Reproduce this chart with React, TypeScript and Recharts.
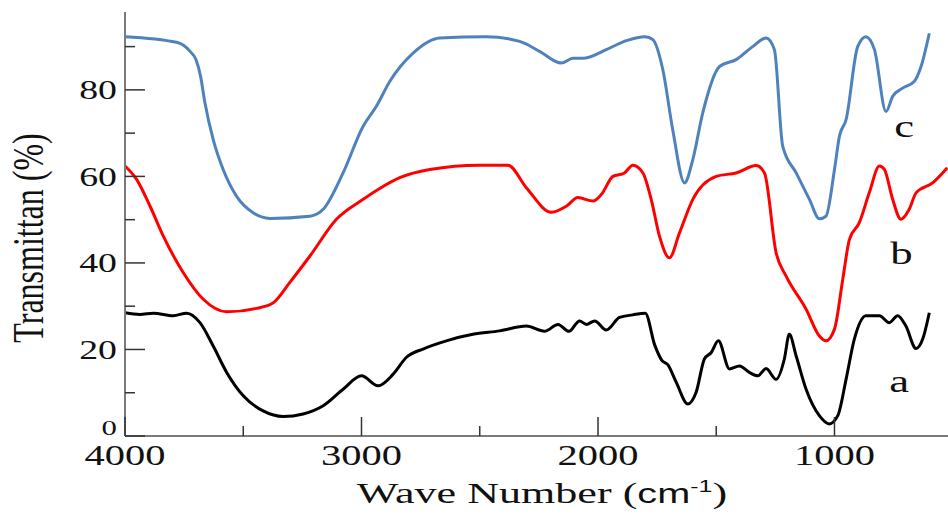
import { LineChart, Line, XAxis, YAxis, ReferenceDot } from 'recharts';

// FTIR spectra (wave number in cm-1, transmittance in %)
const waveA = [4000, 3937, 3880, 3796, 3739, 3683, 3627, 3570, 3500, 3416, 3331, 3247, 3162, 3078, 3000, 2930, 2866, 2810, 2740, 2641, 2529, 2416, 2303, 2226, 2169, 2123, 2078, 2049, 2014, 1965, 1909, 1853, 1800, 1760, 1730, 1705, 1669, 1620, 1585, 1550, 1521, 1491, 1444, 1402, 1360, 1324, 1289, 1247, 1212, 1191, 1162, 1120, 1064, 1022, 986, 951, 916, 867, 810, 768, 733, 698, 655, 627, 599];
const transA = [28.5, 28.1, 28.4, 27.8, 28.4, 26.2, 20.8, 14.7, 9.3, 5.8, 4.5, 5.1, 7.0, 10.8, 13.9, 11.6, 14.3, 18.2, 20.1, 22.0, 23.5, 24.3, 25.4, 24.2, 25.8, 24.2, 26.6, 25.8, 26.6, 24.5, 27.4, 28.0, 28.4, 21, 17.5, 16.5, 12.4, 7.4, 10.1, 17.8, 19.3, 22.0, 15.5, 16.2, 14.7, 13.9, 15.6, 13.1, 17.8, 23.5, 18.5, 10.8, 4.7, 2.8, 4.7, 13.1, 22.4, 27.8, 27.8, 26.2, 27.8, 25.4, 20.2, 22.4, 28.5];

const waveB = [4000, 3951, 3894, 3838, 3754, 3669, 3570, 3444, 3373, 3303, 3218, 3106, 2993, 2923, 2838, 2711, 2500, 2381, 2303, 2197, 2134, 2085, 2021, 1986, 1937, 1888, 1853, 1810, 1775, 1740, 1698, 1655, 1599, 1500, 1416, 1331, 1296, 1247, 1205, 1120, 1064, 1036, 1000, 965, 937, 895, 853, 810, 789, 754, 719, 684, 655, 585, 523];
const transB = [62.4, 59.3, 53.1, 46.2, 37.8, 31.6, 28.7, 29.5, 30.8, 35.5, 41.6, 50.1, 54.7, 57.2, 59.7, 61.6, 62.6, 62.6, 57.4, 51.7, 53.1, 55.1, 54.3, 55.8, 60.0, 60.8, 62.6, 60.8, 54.7, 46.2, 41.2, 47, 54.7, 60.0, 60.8, 62.5, 60.8, 42.4, 37, 29.3, 23.1, 22.0, 24.7, 36.2, 45.4, 49.3, 56.2, 62.4, 61.6, 54.7, 50.1, 52.4, 56.2, 58.5, 62];

const waveC = [4000, 3782, 3725, 3700, 3680, 3662, 3627, 3585, 3528, 3458, 3387, 3218, 3162, 3078, 2993, 2937, 2880, 2782, 2669, 2472, 2331, 2247, 2155, 2106, 2064, 1965, 1880, 1800, 1768, 1726, 1684, 1634, 1599, 1557, 1486, 1416, 1346, 1289, 1254, 1219, 1162, 1106, 1064, 1036, 1000, 979, 951, 902, 867, 831, 782, 754, 712, 662, 634, 599];
const transC = [92.3, 91.0, 88.9, 87.0, 83.0, 77, 68.5, 61.6, 55.4, 51.6, 50.3, 50.8, 52.4, 60.8, 71.6, 76.2, 82, 88.5, 92.0, 92.3, 91.2, 88.9, 86.2, 87.3, 87.3, 89.3, 91.4, 92.3, 91.6, 84.7, 70.8, 58.5, 63.9, 74.7, 85.4, 87, 90.0, 92.0, 89.3, 67, 60.8, 54.7, 50.2, 50.8, 61.6, 69.3, 73.1, 90.0, 92.3, 89.3, 75, 78.5, 80.4, 82, 85.4, 93.1];

const xTicks = [4000, 3500, 3000, 2500, 2000, 1500, 1000];
const yTicks = [0, 10, 20, 30, 40, 50, 60, 70, 80, 90];

// curve letters: [wave number, transmittance, letter]
const curveLabels: [number, number, string][] = [
    [705, 69.2, 'c'],
    [717, 39.7, 'b'],
    [726, 10.2, 'a'],
];

const toSeries = (waves: number[], values: number[]) =>
    waves.map((w, i) => ({ wn: w, t: values[i] }));

const seriesA = toSeries(waveA, transA);
const seriesB = toSeries(waveB, transB);
const seriesC = toSeries(waveC, transC);

const serif = '"Liberation Serif", "Times New Roman", serif';

function YTick({ x, y, payload }: any) {
    const v = payload.value;
    const major = v % 20 === 0;
    return (
        <g>
            <line x1={x} x2={x + (major ? 20 : 10)} y1={y} y2={y} stroke="#333" strokeWidth={1.5} />
            {major && (
                <text
                    transform={`translate(${x - 8},${v === 0 ? y - 9 : y}) scale(1.4,1)`}
                    textAnchor="end"
                    dy="0.35em"
                    fontSize={v === 0 ? 22 : 27}
                    fontFamily={serif}
                    fill="#111"
                >
                    {v}
                </text>
            )}
        </g>
    );
}

function XTick({ x, y, payload }: any) {
    const v = payload.value;
    const major = v % 1000 === 0;
    return (
        <g>
            <line x1={x} x2={x} y1={y} y2={y - (major ? 19 : 10)} stroke="#333" strokeWidth={1.5} />
            {major && (
                <text
                    transform={`translate(${x},${y + 29}) scale(1.35,1)`}
                    textAnchor="middle"
                    fontSize={30}
                    fontFamily={serif}
                    fill="#111"
                >
                    {v}
                </text>
            )}
        </g>
    );
}

const letterLabel = (letter: string) => (props: any) => {
    const { viewBox } = props;
    const cx = viewBox.x + viewBox.width / 2;
    const cy = viewBox.y + viewBox.height / 2;
    return (
        <text
            transform={`translate(${cx},${cy}) scale(1.4,1)`}
            textAnchor="middle"
            fontSize={32}
            fontFamily={serif}
            fill="#111"
        >
            {letter}
        </text>
    );
};

function App() {
    return (
        <div style={{ position: 'absolute', left: 0, top: 0 }}>
            <LineChart width={948} height={519} margin={{ top: 12, right: 0, left: 0, bottom: 0 }}>
                <XAxis
                    type="number"
                    dataKey="wn"
                    domain={[520, 4000]}
                    reversed
                    allowDataOverflow
                    ticks={xTicks}
                    interval={0}
                    height={83}
                    tickSize={0}
                    tickMargin={0}
                    tickLine={false}
                    tick={<XTick />}
                    axisLine={{ stroke: '#7a7a7a', strokeWidth: 2 }}
                    label={{
                        content: (p: any) => {
                            const vb = p.viewBox;
                            return (
                                <text
                                    transform={`translate(${vb.x + 417},${vb.y + 67}) scale(1.47,1)`}
                                    textAnchor="middle"
                                    fontSize={30}
                                    fontFamily={serif}
                                    fill="#111"
                                >
                                    Wave Number (
                                    <tspan fontFamily='"Liberation Sans", Arial, sans-serif' fontSize={27}>cm</tspan>
                                    <tspan fontFamily='"Liberation Sans", Arial, sans-serif' fontSize={17} dy={-11}>-1</tspan>
                                    <tspan dy={11}>)</tspan>
                                </text>
                            );
                        },
                    }}
                />
                <YAxis
                    type="number"
                    domain={[0, 98]}
                    allowDataOverflow
                    ticks={yTicks}
                    interval={0}
                    width={125}
                    tickSize={0}
                    tickMargin={0}
                    tickLine={false}
                    tick={<YTick />}
                    axisLine={{ stroke: '#7a7a7a', strokeWidth: 2 }}
                    label={{
                        content: (p: any) => {
                            const vb = p.viewBox;
                            return (
                                <text
                                    transform={`translate(${vb.x + 43},${vb.y + vb.height / 2 + 14}) scale(1.4,1) rotate(-90)`}
                                    textAnchor="middle"
                                    fontSize={32}
                                    fontFamily={serif}
                                    fill="#111"
                                >
                                    Transmittan (%)
                                </text>
                            );
                        },
                    }}
                />
                <Line data={seriesC} dataKey="t" type="monotone" stroke="#4f81bd" strokeWidth={3} dot={false} activeDot={false} isAnimationActive={false} />
                <Line data={seriesB} dataKey="t" type="monotone" stroke="#ff0000" strokeWidth={3} dot={false} activeDot={false} isAnimationActive={false} />
                <Line data={seriesA} dataKey="t" type="monotone" stroke="#000000" strokeWidth={3} dot={false} activeDot={false} isAnimationActive={false} />
                {curveLabels.map(([w, t, l]) => (
                    <ReferenceDot key={l} x={w} y={t} r={0} fill="none" stroke="none" label={letterLabel(l)} />
                ))}
            </LineChart>
        </div>
    );
}

export default App;
